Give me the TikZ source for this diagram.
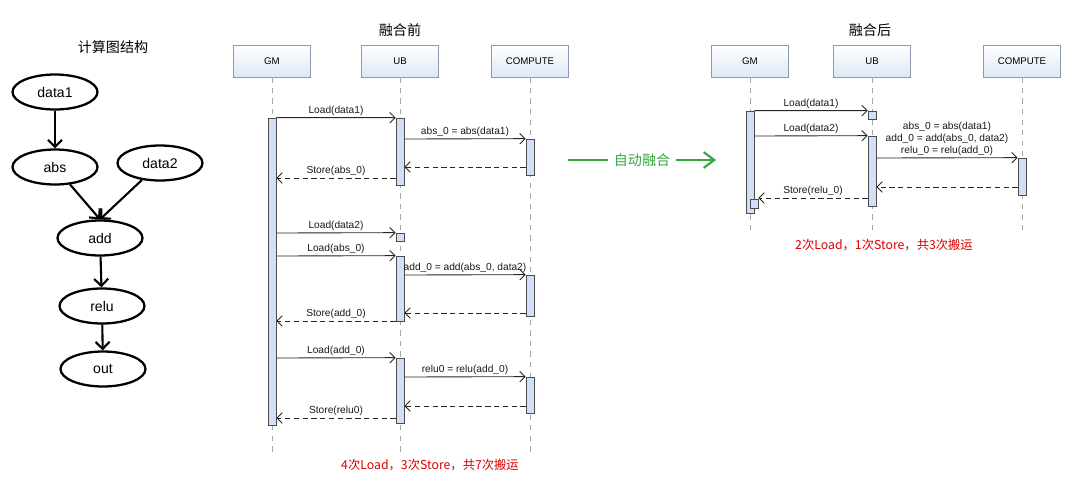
\documentclass[tikz,border=0pt]{standalone}
\usepackage{fontspec}
\setmainfont{Liberation Sans}
\newfontfamily\cjk{Noto Sans CJK SC}
\usetikzlibrary{arrows.meta, positioning, shapes.geometric}
\definecolor{headfill}{rgb}{0.87,0.91,0.97}
\definecolor{headline}{rgb}{0.55,0.6,0.7}
\definecolor{actfill}{rgb}{0.82,0.88,0.97}
\definecolor{darkgreen}{rgb}{0.2,0.65,0.25}
\tikzset{
  gnode/.style={draw, ellipse, line width=1.3pt, minimum width=1.7cm, minimum height=0.7cm, font=\fontsize{8}{9}\selectfont},
  garrow/.style={-{Straight Barb[length=4pt]}, line width=1.2pt},
  head/.style={draw=headline, top color=white, bottom color=headfill, minimum width=1.55cm, minimum height=0.64cm, font=\fontsize{5.5}{6}\selectfont},
  life/.style={dashed, gray!70, line width=0.3pt},
  act/.style={draw=gray!60!black, fill=actfill, line width=0.4pt},
  msg/.style={-{Straight Barb[length=3pt]}, gray!30!black, line width=0.5pt},
  ret/.style={msg, densely dashed},
  lbl/.style={font=\fontsize{5.8}{6.8}\selectfont, text=gray!20!black, above, inner sep=1pt, align=center},
  title/.style={font=\cjk\fontsize{8}{9}\selectfont},
  note/.style={font=\cjk\fontsize{7}{8}\selectfont, text=red!85!black}
}
\begin{document}
\begin{tikzpicture}[x=0.02cm, y=-0.02cm]
\useasboundingbox (0,0) rectangle (1080,477);
% compute graph
\node[title] (gtitle) at (113,47) {计算图结构};
\node[gnode] (data1) at (55,92) {data1};
\node[gnode] (abs) at (55,167) {abs};
\node[gnode] (data2) at (160,163) {data2};
\node[gnode] (add) at (100,238) {add};
\node[gnode] (relu) at (102,306) {relu};
\node[gnode] (out) at (103,369) {out};
\draw[garrow] (data1) -- (abs);
\draw[garrow] (abs) -- (add.north);
\draw[garrow] (data2) -- (add.north);
\draw[garrow] (add) -- (relu);
\draw[garrow] (relu) -- (out);

% before fusion
\node[title] (btitle) at (400,30) {融合前};
\node[head] (gm1) at (272,61) {GM};
\node[head] (ub1) at (400,61) {UB};
\node[head] (cp1) at (530,61) {COMPUTE};
\coordinate (gm1e) at (272,455);
\coordinate (ub1e) at (400,455);
\coordinate (cp1e) at (530,455);
\draw[life] (gm1) -- (gm1e);
\draw[life] (ub1) -- (ub1e);
\draw[life] (cp1) -- (cp1e);
\node[act, minimum width=0.16cm, minimum height=6.14cm, inner sep=0] (gma) at (272,271.5) {};
\node[act, minimum width=0.16cm, minimum height=1.34cm, inner sep=0] (uba) at (400,151.5) {};
\node[act, minimum width=0.16cm, minimum height=0.16cm, inner sep=0] (ubb) at (400,237) {};
\node[act, minimum width=0.16cm, minimum height=1.3cm, inner sep=0] (ubc) at (400,288.5) {};
\node[act, minimum width=0.16cm, minimum height=1.3cm, inner sep=0] (ubd) at (400,390.5) {};
\node[act, minimum width=0.16cm, minimum height=0.72cm, inner sep=0] (cpa) at (530,157) {};
\node[act, minimum width=0.16cm, minimum height=0.82cm, inner sep=0] (cpb) at (530,295.5) {};
\node[act, minimum width=0.16cm, minimum height=0.72cm, inner sep=0] (cpc) at (530,395) {};
\draw[msg] (gma.north east) -- node[lbl] {Load(data1)} (uba.north west);
\draw[msg] (uba.east |- 0,139) -- node[lbl] {abs\_0 = abs(data1)} (cpa.north west);
\draw[ret] (cpa.west |- 0,167) -- (uba.east |- 0,167);
\draw[ret] (uba.west |- 0,178) -- node[lbl] {Store(abs\_0)} (gma.east |- 0,178);
\draw[msg] (gma.east |- 0,233) -- node[lbl] {Load(data2)} (ubb.north west);
\draw[msg] (gma.east |- 0,256) -- node[lbl] {Load(abs\_0)} (ubc.north west);
\draw[msg] (ubc.east |- 0,275) -- node[lbl] {add\_0 = add(abs\_0, data2)} (cpb.north west);
\draw[ret] (cpb.west |- 0,313) -- (ubc.east |- 0,313);
\draw[ret] (ubc.west |- 0,321) -- node[lbl] {Store(add\_0)} (gma.east |- 0,321);
\draw[msg] (gma.east |- 0,358) -- node[lbl] {Load(add\_0)} (ubd.north west);
\draw[msg] (ubd.east |- 0,377) -- node[lbl] {relu0 = relu(add\_0)} (cpc.north west);
\draw[ret] (cpc.west |- 0,406) -- (ubd.east |- 0,406);
\draw[ret] (ubd.west |- 0,418) -- node[lbl] {Store(relu0)} (gma.east |- 0,418);
\node[note] (bnote) at (430,465) {4次Load，3次Store，共7次搬运};

% fusion arrow
\node[font=\cjk\fontsize{8}{9}\selectfont, text=darkgreen] (fuse) at (642,160) {自动融合};
\coordinate (fstart) at (568,160);
\coordinate (fend) at (716,160);
\draw[darkgreen, line width=1.2pt] (fstart) -- (fuse);
\draw[darkgreen, line width=1.2pt, -{Straight Barb[length=6pt, width=9pt]}] (fuse) -- (fend);

% after fusion
\node[title] (atitle) at (870,30) {融合后};
\node[head] (gm2) at (750,61) {GM};
\node[head] (ub2) at (872,61) {UB};
\node[head] (cp2) at (1022,61) {COMPUTE};
\coordinate (gm2e) at (750,235);
\coordinate (ub2e) at (872,235);
\coordinate (cp2e) at (1022,235);
\draw[life] (gm2) -- (gm2e);
\draw[life] (ub2) -- (ub2e);
\draw[life] (cp2) -- (cp2e);
\node[act, minimum width=0.16cm, minimum height=2.04cm, inner sep=0] (gmb) at (750,162) {};
\node[act, minimum width=0.16cm, minimum height=0.18cm, inner sep=0] (gmc) at (754,203.5) {};
\node[act, minimum width=0.16cm, minimum height=0.16cm, inner sep=0] (ube) at (872,115) {};
\node[act, minimum width=0.16cm, minimum height=1.4cm, inner sep=0] (ubf) at (872,171) {};
\node[act, minimum width=0.16cm, minimum height=0.74cm, inner sep=0] (cpd) at (1022,176.5) {};
\draw[msg] (gmb.north east) -- node[lbl] {Load(data1)} (ube.north west);
\draw[msg] (gmb.east |- 0,136) -- node[lbl] {Load(data2)} (ubf.north west);
\draw[msg] (ubf.east |- 0,158) -- node[lbl] {abs\_0 = abs(data1)\\add\_0 = add(abs\_0, data2)\\relu\_0 = relu(add\_0)} (cpd.north west);
\draw[ret] (cpd.west |- 0,187) -- (ubf.east |- 0,187);
\draw[ret] (ubf.west |- 0,198) -- node[lbl] {Store(relu\_0)} (gmc.east |- 0,198);
\node[note] (anote) at (884,245) {2次Load，1次Store，共3次搬运};
\end{tikzpicture}
\end{document}
